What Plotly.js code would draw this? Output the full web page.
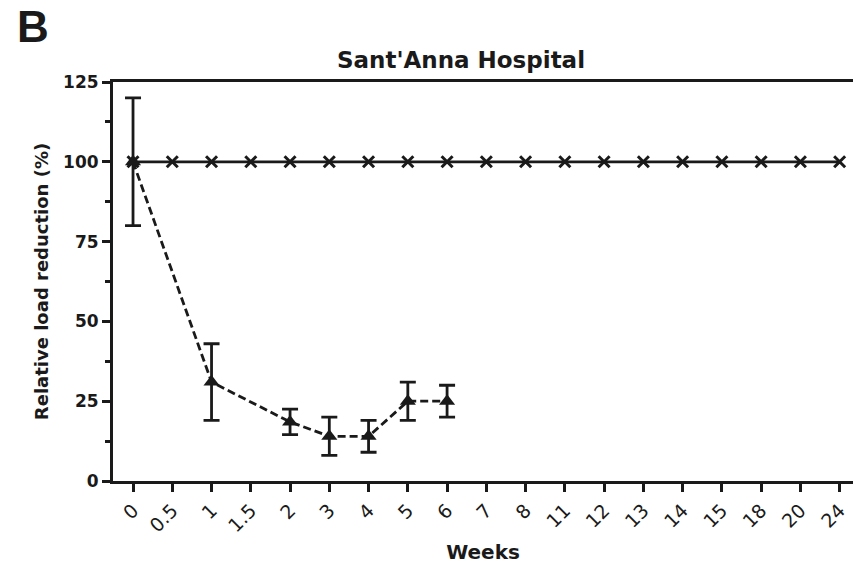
<!DOCTYPE html>
<html>
<head>
<meta charset="utf-8">
<script src="https://cdn.plot.ly/plotly-3.0.1.min.js"></script>
<style>html,body{margin:0;padding:0;background:#fff;}#chart{width:853px;height:570px;}</style>
</head>
<body>
<div id="chart"></div>
<script>
// Week categories (x axis tick labels)
const weeks = ["0","0.5","1","1.5","2","3","4","5","6","7","8","11","12","13","14","15","18","20","24"];
// Control series (solid line, x markers)
const controlValues = [100,100,100,100,100,100,100,100,100,100,100,100,100,100,100,100,100,100,100];
// Treated series (dashed line, triangles)
const treatedWeeks = ["0","1","2","3","4","5","6"];
const treatedValues = [100,31,18.5,14,14,25,25];
const treatedErrors = [20,12,4,6,5,6,5];
// Y axis ticks
const yTickVals = [0, 25, 50, 75, 100, 125];
const yTickText = ["0", "25", "50", "75", "100", "125"];
const yMinorVals = [12.5, 37.5, 62.5, 87.5, 112.5];

const FONT = "DejaVu Sans, Liberation Sans, Arial, sans-serif";
const FONT_B = "Liberation Sans, Arial, sans-serif";
const INK = "#1a1a1a";

const traces = [
  {
    x: weeks, y: controlValues, type: "scatter", mode: "lines+markers",
    line: {color: INK, width: 2.8},
    marker: {symbol: "x-thin-open", size: 11, color: INK, line: {color: INK, width: 3}},
    showlegend: false, cliponaxis: false
  },
  {
    x: treatedWeeks, y: treatedValues, type: "scatter", mode: "lines+markers",
    line: {color: INK, width: 2.8, dash: "8px,4px"},
    marker: {symbol: "triangle-up", size: 14, color: INK},
    error_y: {type: "data", array: treatedErrors, visible: true, color: INK, thickness: 2.8, width: 8},
    showlegend: false, cliponaxis: false
  }
];

const layout = {
  width: 853, height: 570,
  margin: {l: 113, r: 0, t: 82, b: 89},
  paper_bgcolor: "#fff", plot_bgcolor: "#fff",
  font: {family: FONT, color: INK},
  title: {
    text: "<b>Sant'Anna Hospital</b>",
    font: {family: FONT, size: 23, color: INK},
    x: 461/853, xref: "container", xanchor: "center",
    y: 1 - 60/570, yref: "container", yanchor: "middle"
  },
  xaxis: {
    type: "category",
    categoryorder: "array", categoryarray: weeks,
    range: [-0.51, 18.34],
    showline: true, linecolor: INK, linewidth: 3, mirror: true,
    ticks: "outside", ticklen: 8, tickwidth: 3, tickcolor: INK,
    tickangle: -45,
    tickfont: {family: FONT, size: 19, color: INK},
    showgrid: false, zeroline: false,
    title: {text: "<b>Weeks</b>", font: {family: FONT, size: 20, color: INK}, standoff: 10}
  },
  yaxis: {
    range: [0, 125],
    tickmode: "array", tickvals: yTickVals, ticktext: yTickText.map(t => "<b>" + t + "</b>"),
    showline: true, linecolor: INK, linewidth: 3,
    ticks: "outside", ticklen: 8, tickwidth: 3, tickcolor: INK,
    minor: {tickvals: yMinorVals, ticks: "outside", ticklen: 5, tickwidth: 3, tickcolor: INK, showgrid: false},
    tickfont: {family: FONT, size: 17, color: INK},
    showgrid: false, zeroline: false,
    title: {text: "<b>Relative load reduction (%)</b>", font: {family: FONT, size: 18, color: INK}, standoff: 10}
  },
  annotations: [
    {text: "<b>B</b>", xref: "paper", yref: "paper", x: (15 - 113)/740, y: 1 + 82/399,
     xanchor: "left", yanchor: "top", showarrow: false,
     font: {family: FONT_B, size: 44, color: INK}}
  ]
};

Plotly.newPlot("chart", traces, layout, {displayModeBar: false, staticPlot: true});
</script>
</body>
</html>
